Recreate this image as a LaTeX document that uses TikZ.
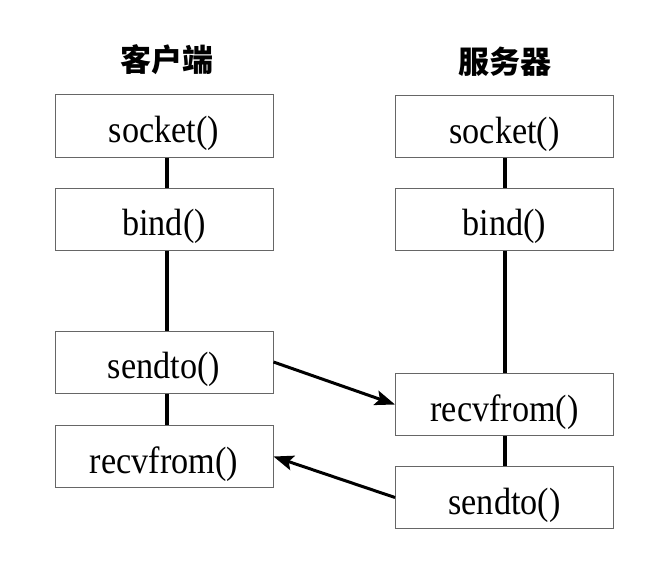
\documentclass[tikz,border=0pt]{standalone}
\usepackage{fontspec}
\setmainfont{Liberation Serif}
\newfontfamily\cjk{Noto Sans CJK SC}
\newfontfamily\callfont[FakeStretch=0.9]{Liberation Serif}
\usetikzlibrary{arrows.meta}

\tikzset{
  callbox/.style={draw=black!60, line width=1pt, minimum width=218pt, minimum height=62pt,
    inner sep=0pt, text height=33pt, text depth=0pt,
    font=\callfont\fontsize{38}{42}\selectfont},
  title/.style={font=\cjk\bfseries\fontsize{31}{34}\selectfont},
  link/.style={line width=4pt},
  msg/.style={line width=3pt, -{Stealth[length=20pt,width=15pt,inset=4pt]}}
}

\begin{document}
\begin{tikzpicture}[x=1pt, y=-1pt]
  \useasboundingbox (0,0) rectangle (655,567);

  \node[title] (client) at (167,60) {客户端};
  \node[title] (server) at (505,62) {服务器};

  % Client
  \node[callbox] (csocket) at (164,126) {socket()};
  \node[callbox] (cbind) at (164,219) {bind()};
  \node[callbox] (csend) at (164,362) {sendto()};
  \node[callbox] (crecv) at (164,456.5) {recvfrom()};

  % Server
  \node[callbox] (ssocket) at (504.5,126.5) {socket()};
  \node[callbox] (sbind) at (504.5,219) {bind()};
  \node[callbox] (srecv) at (504.5,404.5) {recvfrom()};
  \node[callbox] (ssend) at (504.5,497.5) {sendto()};

  \begin{scope}[link]
    \draw ([xshift=3pt]csocket.south) -- ([xshift=3pt]cbind.north);
    \draw ([xshift=3pt]cbind.south) -- ([xshift=3pt]csend.north);
    \draw ([xshift=3pt]csend.south) -- ([xshift=3pt]crecv.north);
    \draw (ssocket) -- (sbind);
    \draw (sbind) -- (srecv);
    \draw (srecv) -- (ssend);
  \end{scope}

  \draw[msg] (csend.east) -- (srecv.west);
  \draw[msg] (ssend.west) -- (crecv.east);

\end{tikzpicture}
\end{document}
